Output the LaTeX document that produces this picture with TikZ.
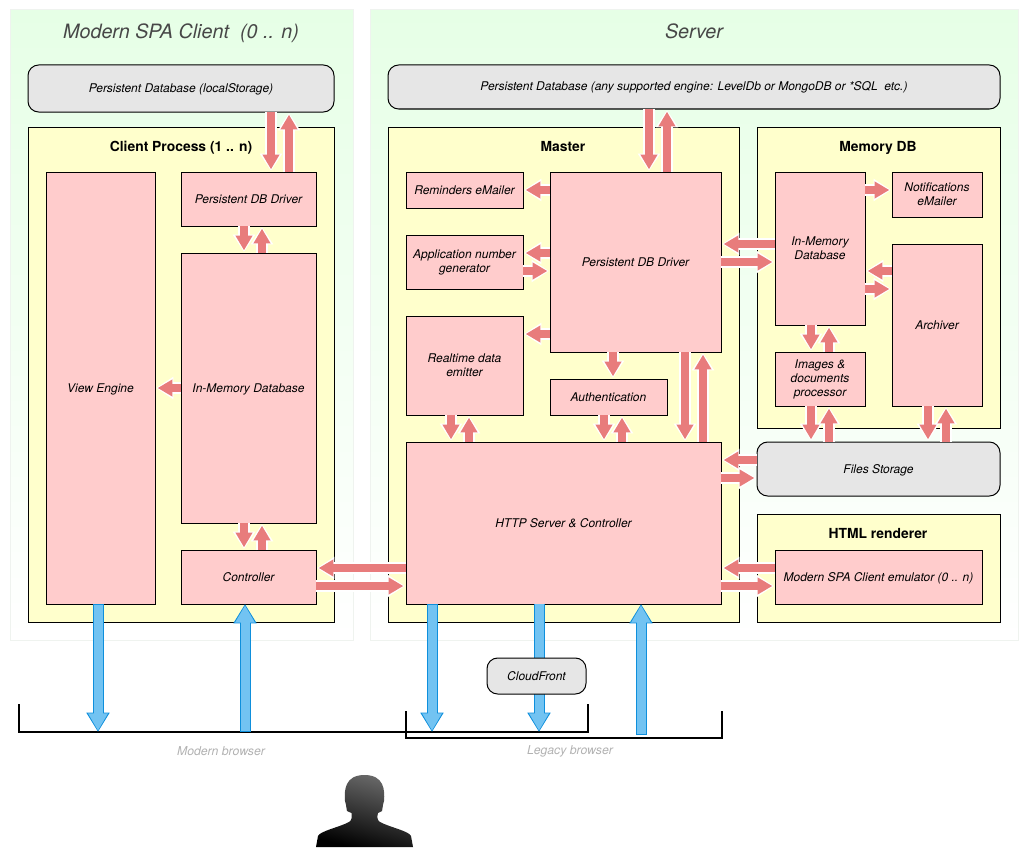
\documentclass[tikz,border=0pt]{standalone}
\usepackage{fontspec}
\setmainfont{TeX Gyre Heros}
\usetikzlibrary{arrows.meta,calc}
\definecolor{panelgreen}{HTML}{E6FFE6}
\definecolor{paneledge}{HTML}{EFF3EF}
\definecolor{processyellow}{HTML}{FFFFCC}
\definecolor{blockred}{HTML}{FFCCCC}
\definecolor{storegrey}{HTML}{E6E6E6}
\definecolor{arrowred}{HTML}{E87C7C}
\definecolor{arrowblue}{HTML}{72C3F2}
\definecolor{edgeblue}{HTML}{0E8FDC}
\tikzset{
	boxsize/.style 2 args={minimum width=#1*0.75pt, minimum height=#2*0.75pt},
	panel/.style={draw=paneledge, line width=0.75pt, top color=panelgreen, bottom color=white, inner sep=0pt, outer sep=0pt},
	process/.style={draw=black, line width=0.75pt, fill=processyellow, inner sep=0pt, outer sep=0pt},
	block/.style={draw=black, line width=0.75pt, fill=blockred, inner sep=0pt, outer sep=0pt, align=center, font=\fontsize{9}{10.5}\selectfont\itshape},
	blockline/.style={block, text height=8pt, text depth=2pt},
	store/.style={draw=black, line width=0.75pt, fill=storegrey, rounded corners=8pt, inner sep=0pt, outer sep=0pt, font=\fontsize{9}{10.5}\selectfont\itshape, text height=8pt, text depth=2pt},
	paneltitle/.style={font=\fontsize{14.8}{18}\selectfont\itshape, text=black!72, text height=13pt, text depth=3pt},
	processtitle/.style={font=\fontsize{10.4}{12}\selectfont\bfseries, text height=9.5pt, text depth=2pt},
	browserlabel/.style={font=\fontsize{9.2}{10}\selectfont\itshape, text=black!30},
	bracket/.style={draw=black, line width=1.5pt},
	redarrow/.style={draw=arrowred, line width=5.5pt, -{Triangle[length=11pt,width=12pt]}, shorten >=2pt,
		preaction={draw=white, line width=8.5pt, -{Triangle[length=13pt,width=16pt]}, shorten >=0.8pt}},
	blueshaft/.style={draw=arrowblue, line width=6.75pt, preaction={draw=edgeblue, line width=8.25pt}},
	bluearrow/.style={draw=arrowblue, line width=6.75pt, -{Triangle[length=13pt,width=14pt]}, shorten >=1pt, shorten <=0.75pt,
		preaction={draw=edgeblue, line width=8.25pt, -{Triangle[length=14.5pt,width=16.5pt]}, shorten >=0pt, shorten <=0pt}},
}
\begin{document}
\begin{tikzpicture}[x=0.75pt, y=-0.75pt]
	\useasboundingbox (0,0) rectangle (1028,856);

	% Panels
	\node[panel, boxsize={343}{630}] (clientpanel) at (181.5,325) {};
	\node[panel, boxsize={648}{630}] (serverpanel) at (694,325) {};
	\node[paneltitle] (clienttitle) at (181,32) {Modern SPA Client\ \ (0 .. n)};
	\node[paneltitle] (servertitle) at (694,32) {Server};

	% Client
	\node[store, boxsize={306}{47}] (clientdb) at (181,88.5) {Persistent Database (localStorage)};
	\node[process, boxsize={306}{495}] (clientprocess) at (181,374.5) {};
	\node[processtitle] (clientprocesstitle) at (181,146) {Client Process (1 .. n)};
	\node[blockline, boxsize={109}{432}] (viewengine) at (100.5,388) {View Engine};
	\node[blockline, boxsize={135}{54}] (clientdriver) at (248.5,199) {Persistent DB Driver};
	\node[blockline, boxsize={135}{270}] (clientmemory) at (248.5,388) {In-Memory Database};
	\node[blockline, boxsize={135}{54}] (clientcontroller) at (248.5,577) {Controller};

	% Server
	\node[store, boxsize={612}{44}] (serverdb) at (694,87) {Persistent Database (any supported engine: LevelDb or MongoDB or *SQL\ \ etc.)};
	\node[process, boxsize={351}{495}] (master) at (563.5,374.5) {};
	\node[processtitle] (mastertitle) at (563,146) {Master};
	\node[blockline, boxsize={117}{36}] (reminders) at (464.5,190) {Reminders eMailer};
	\node[block, boxsize={117}{54}] (appnumber) at (464.5,262) {Application number\\generator};
	\node[block, boxsize={117}{99}] (realtime) at (464.5,365.5) {Realtime data\\emitter};
	\node[blockline, boxsize={171}{180}] (serverdriver) at (635.5,262) {Persistent DB Driver};
	\node[blockline, boxsize={117}{36}] (authentication) at (608.5,397) {Authentication};
	\node[blockline, boxsize={315}{162}] (httpserver) at (563.5,523) {HTTP Server \& Controller};

	% Memory DB
	\node[process, boxsize={243}{301}] (memorydb) at (878.5,277.5) {};
	\node[processtitle] (memorydbtitle) at (878,146) {Memory DB};
	\node[block, boxsize={90}{153}] (servermemory) at (820,248.5) {In-Memory\\Database};
	\node[block, boxsize={90}{45}] (notifications) at (937,194.5) {Notifications\\eMailer};
	\node[blockline, boxsize={90}{162}] (archiver) at (937,325) {Archiver};
	\node[block, boxsize={90}{54}] (images) at (820,379) {Images \&\\documents\\processor};
	\node[store, boxsize={243}{54}] (files) at (878.5,469) {Files Storage};

	% HTML renderer
	\node[process, boxsize={243}{108}] (htmlrenderer) at (878.5,568) {};
	\node[processtitle] (htmlrenderertitle) at (878,533) {HTML renderer};
	\node[blockline, boxsize={207}{54}] (emulator) at (878.5,577) {Modern SPA Client emulator (0 .. n)};

	% Client arrows
	\draw[redarrow] (271,0 |- clientdb.south) -- (271,0 |- clientdriver.north);
	\draw[redarrow] (289,0 |- clientdriver.north) -- (289,0 |- clientdb.south);
	\draw[redarrow] (244,0 |- clientdriver.south) -- (244,0 |- clientmemory.north);
	\draw[redarrow] (262,0 |- clientmemory.north) -- (262,0 |- clientdriver.south);
	\draw[redarrow] (244,0 |- clientmemory.south) -- (244,0 |- clientcontroller.north);
	\draw[redarrow] (262,0 |- clientcontroller.north) -- (262,0 |- clientmemory.south);
	\draw[redarrow] (clientmemory.west) -- (viewengine.east);
	\draw[redarrow] (httpserver.west |- 0,568) -- (clientcontroller.east |- 0,568);
	\draw[redarrow] (clientcontroller.east |- 0,586) -- (httpserver.west |- 0,586);

	% Server arrows
	\draw[redarrow] (649,0 |- serverdb.south) -- (649,0 |- serverdriver.north);
	\draw[redarrow] (667,0 |- serverdriver.north) -- (667,0 |- serverdb.south);
	\draw[redarrow] (serverdriver.west |- reminders.east) -- (reminders.east);
	\draw[redarrow] (serverdriver.west |- 0,253) -- (appnumber.east |- 0,253);
	\draw[redarrow] (appnumber.east |- 0,271) -- (serverdriver.west |- 0,271);
	\draw[redarrow] (serverdriver.west |- 0,334) -- (realtime.east |- 0,334);
	\draw[redarrow] (613,0 |- serverdriver.south) -- (613,0 |- authentication.north);
	\draw[redarrow] (451,0 |- realtime.south) -- (451,0 |- httpserver.north);
	\draw[redarrow] (469,0 |- httpserver.north) -- (469,0 |- realtime.south);
	\draw[redarrow] (604,0 |- authentication.south) -- (604,0 |- httpserver.north);
	\draw[redarrow] (622,0 |- httpserver.north) -- (622,0 |- authentication.south);
	\draw[redarrow] (685,0 |- serverdriver.south) -- (685,0 |- httpserver.north);
	\draw[redarrow] (703,0 |- httpserver.north) -- (703,0 |- serverdriver.south);

	% Memory DB arrows
	\draw[redarrow] (servermemory.west |- 0,244) -- (serverdriver.east |- 0,244);
	\draw[redarrow] (serverdriver.east |- 0,262) -- (servermemory.west |- 0,262);
	\draw[redarrow] (servermemory.east |- 0,190) -- (notifications.west |- 0,190);
	\draw[redarrow] (archiver.west |- 0,271) -- (servermemory.east |- 0,271);
	\draw[redarrow] (servermemory.east |- 0,289) -- (archiver.west |- 0,289);
	\draw[redarrow] (811,0 |- servermemory.south) -- (811,0 |- images.north);
	\draw[redarrow] (829,0 |- images.north) -- (829,0 |- servermemory.south);
	\draw[redarrow] (811,0 |- images.south) -- (811,0 |- files.north);
	\draw[redarrow] (829,0 |- files.north) -- (829,0 |- images.south);
	\draw[redarrow] (928,0 |- archiver.south) -- (928,0 |- files.north);
	\draw[redarrow] (946,0 |- files.north) -- (946,0 |- archiver.south);

	% Files and renderer arrows
	\draw[redarrow] (files.west |- 0,460) -- (httpserver.east |- 0,460);
	\draw[redarrow] (httpserver.east |- 0,478) -- (files.west |- 0,478);
	\draw[redarrow] (emulator.west |- 0,568) -- (httpserver.east |- 0,568);
	\draw[redarrow] (httpserver.east |- 0,586) -- (emulator.west |- 0,586);

	% Browser brackets
	\coordinate (modernout) at (98,732);
	\coordinate (modernin) at (245,732);
	\coordinate (legacyout) at (432,732);
	\coordinate (legacycdn) at (539,732);
	\coordinate (legacyin) at (641,735);
	\draw[bracket] (19,704) -- (19,732) -- (588,732) -- (588,704);
	\draw[bracket] (406,711) -- (406,738) -- (722,738) -- (722,711);
	\node[browserlabel] (modernlabel) at (221,751) {Modern browser};
	\node[browserlabel] (legacylabel) at (570,751) {Legacy browser};

	% Browser arrows
	\draw[bluearrow] (viewengine.south -| modernout) -- (modernout);
	\draw[bluearrow] (modernin) -- (clientcontroller.south -| modernin);
	\draw[bluearrow] (httpserver.south -| legacyout) -- (legacyout);
	\draw[bluearrow] (legacyin) -- (httpserver.south -| legacyin);
	\draw[blueshaft] (httpserver.south -| legacycdn) -- (legacycdn |- 0,676);
	\draw[bluearrow] (legacycdn |- 0,676) -- (legacycdn);
	\node[store, boxsize={99}{36}] (cloudfront) at (536.5,676) {CloudFront};

	% User
	\shade[top color=black!58, bottom color=black, shading angle=-15]
		(316,847) -- (318,836) .. controls (320,831) and (340,827) .. (349,822)
		.. controls (352,820) and (352,817) .. (351.5,813) -- (347,811)
		.. controls (346,806) and (346,803) .. (345,801) .. controls (344,790) and (345,775) .. (364.5,775)
		.. controls (384,775) and (385,790) .. (384,801) .. controls (383,803) and (383,806) .. (382,811)
		-- (378,813) .. controls (377,817) and (377,820) .. (380,822)
		.. controls (389,827) and (409,831) .. (411,836) -- (413,847) -- cycle;
\end{tikzpicture}
\end{document}
